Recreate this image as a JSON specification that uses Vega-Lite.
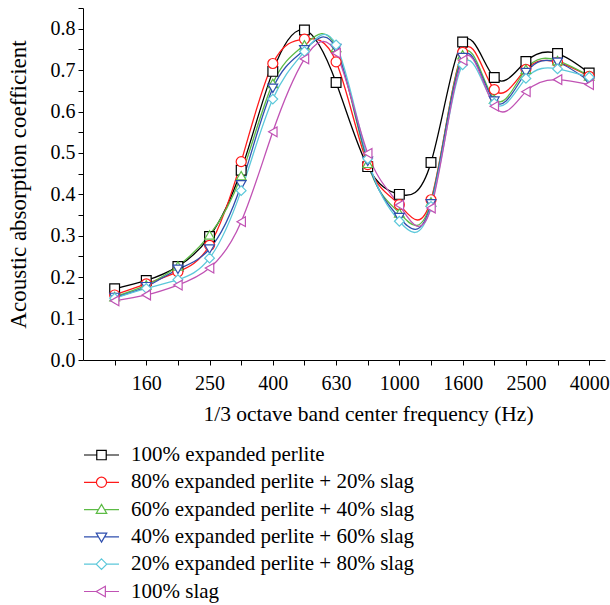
{
  "$schema": "https://vega.github.io/schema/vega-lite/v6.json",
  "autosize": "none",
  "padding": {"left": 83, "top": 8, "right": 5, "bottom": 245},
  "width": 522,
  "height": 352,
  "background": "white",
  "config": {
    "view": {"stroke": null},
    "font": "Liberation Serif",
    "axis": {
      "grid": false,
      "domainColor": "black",
      "domainWidth": 1,
      "tickColor": "black",
      "tickWidth": 1,
      "tickSize": 5,
      "labelColor": "black",
      "titleColor": "black",
      "labelFont": "Liberation Serif",
      "titleFont": "Liberation Serif",
      "labelFontSize": 20,
      "titleFontSize": 21.5,
      "titleFontWeight": "normal"
    }
  },
  "data": {
    "values": [
      {"band": 1, "freq": 125, "series": "100% expanded perlite", "alpha": 0.172},
      {"band": 2, "freq": 160, "series": "100% expanded perlite", "alpha": 0.192},
      {"band": 3, "freq": 200, "series": "100% expanded perlite", "alpha": 0.226},
      {"band": 4, "freq": 250, "series": "100% expanded perlite", "alpha": 0.298},
      {"band": 5, "freq": 315, "series": "100% expanded perlite", "alpha": 0.458},
      {"band": 6, "freq": 400, "series": "100% expanded perlite", "alpha": 0.697},
      {"band": 7, "freq": 500, "series": "100% expanded perlite", "alpha": 0.797},
      {"band": 8, "freq": 630, "series": "100% expanded perlite", "alpha": 0.670},
      {"band": 9, "freq": 800, "series": "100% expanded perlite", "alpha": 0.467},
      {"band": 10, "freq": 1000, "series": "100% expanded perlite", "alpha": 0.400},
      {"band": 11, "freq": 1250, "series": "100% expanded perlite", "alpha": 0.477},
      {"band": 12, "freq": 1600, "series": "100% expanded perlite", "alpha": 0.768},
      {"band": 13, "freq": 2000, "series": "100% expanded perlite", "alpha": 0.682},
      {"band": 14, "freq": 2500, "series": "100% expanded perlite", "alpha": 0.721},
      {"band": 15, "freq": 3150, "series": "100% expanded perlite", "alpha": 0.740},
      {"band": 16, "freq": 4000, "series": "100% expanded perlite", "alpha": 0.693},

      {"band": 1, "freq": 125, "series": "80% expanded perlite + 20% slag", "alpha": 0.157},
      {"band": 2, "freq": 160, "series": "80% expanded perlite + 20% slag", "alpha": 0.184},
      {"band": 3, "freq": 200, "series": "80% expanded perlite + 20% slag", "alpha": 0.213},
      {"band": 4, "freq": 250, "series": "80% expanded perlite + 20% slag", "alpha": 0.277},
      {"band": 5, "freq": 315, "series": "80% expanded perlite + 20% slag", "alpha": 0.479},
      {"band": 6, "freq": 400, "series": "80% expanded perlite + 20% slag", "alpha": 0.716},
      {"band": 7, "freq": 500, "series": "80% expanded perlite + 20% slag", "alpha": 0.775},
      {"band": 8, "freq": 630, "series": "80% expanded perlite + 20% slag", "alpha": 0.720},
      {"band": 9, "freq": 800, "series": "80% expanded perlite + 20% slag", "alpha": 0.472},
      {"band": 10, "freq": 1000, "series": "80% expanded perlite + 20% slag", "alpha": 0.375},
      {"band": 11, "freq": 1250, "series": "80% expanded perlite + 20% slag", "alpha": 0.387},
      {"band": 12, "freq": 1600, "series": "80% expanded perlite + 20% slag", "alpha": 0.743},
      {"band": 13, "freq": 2000, "series": "80% expanded perlite + 20% slag", "alpha": 0.653},
      {"band": 14, "freq": 2500, "series": "80% expanded perlite + 20% slag", "alpha": 0.702},
      {"band": 15, "freq": 3150, "series": "80% expanded perlite + 20% slag", "alpha": 0.719},
      {"band": 16, "freq": 4000, "series": "80% expanded perlite + 20% slag", "alpha": 0.685},

      {"band": 1, "freq": 125, "series": "60% expanded perlite + 40% slag", "alpha": 0.153},
      {"band": 2, "freq": 160, "series": "60% expanded perlite + 40% slag", "alpha": 0.181},
      {"band": 3, "freq": 200, "series": "60% expanded perlite + 40% slag", "alpha": 0.227},
      {"band": 4, "freq": 250, "series": "60% expanded perlite + 40% slag", "alpha": 0.302},
      {"band": 5, "freq": 315, "series": "60% expanded perlite + 40% slag", "alpha": 0.445},
      {"band": 6, "freq": 400, "series": "60% expanded perlite + 40% slag", "alpha": 0.668},
      {"band": 7, "freq": 500, "series": "60% expanded perlite + 40% slag", "alpha": 0.761},
      {"band": 8, "freq": 630, "series": "60% expanded perlite + 40% slag", "alpha": 0.755},
      {"band": 9, "freq": 800, "series": "60% expanded perlite + 40% slag", "alpha": 0.475},
      {"band": 10, "freq": 1000, "series": "60% expanded perlite + 40% slag", "alpha": 0.355},
      {"band": 11, "freq": 1250, "series": "60% expanded perlite + 40% slag", "alpha": 0.382},
      {"band": 12, "freq": 1600, "series": "60% expanded perlite + 40% slag", "alpha": 0.737},
      {"band": 13, "freq": 2000, "series": "60% expanded perlite + 40% slag", "alpha": 0.630},
      {"band": 14, "freq": 2500, "series": "60% expanded perlite + 40% slag", "alpha": 0.702},
      {"band": 15, "freq": 3150, "series": "60% expanded perlite + 40% slag", "alpha": 0.723},
      {"band": 16, "freq": 4000, "series": "60% expanded perlite + 40% slag", "alpha": 0.686},

      {"band": 1, "freq": 125, "series": "40% expanded perlite + 60% slag", "alpha": 0.151},
      {"band": 2, "freq": 160, "series": "40% expanded perlite + 60% slag", "alpha": 0.177},
      {"band": 3, "freq": 200, "series": "40% expanded perlite + 60% slag", "alpha": 0.219},
      {"band": 4, "freq": 250, "series": "40% expanded perlite + 60% slag", "alpha": 0.268},
      {"band": 5, "freq": 315, "series": "40% expanded perlite + 60% slag", "alpha": 0.423},
      {"band": 6, "freq": 400, "series": "40% expanded perlite + 60% slag", "alpha": 0.656},
      {"band": 7, "freq": 500, "series": "40% expanded perlite + 60% slag", "alpha": 0.749},
      {"band": 8, "freq": 630, "series": "40% expanded perlite + 60% slag", "alpha": 0.752},
      {"band": 9, "freq": 800, "series": "40% expanded perlite + 60% slag", "alpha": 0.480},
      {"band": 10, "freq": 1000, "series": "40% expanded perlite + 60% slag", "alpha": 0.344},
      {"band": 11, "freq": 1250, "series": "40% expanded perlite + 60% slag", "alpha": 0.377},
      {"band": 12, "freq": 1600, "series": "40% expanded perlite + 60% slag", "alpha": 0.730},
      {"band": 13, "freq": 2000, "series": "40% expanded perlite + 60% slag", "alpha": 0.625},
      {"band": 14, "freq": 2500, "series": "40% expanded perlite + 60% slag", "alpha": 0.694},
      {"band": 15, "freq": 3150, "series": "40% expanded perlite + 60% slag", "alpha": 0.719},
      {"band": 16, "freq": 4000, "series": "40% expanded perlite + 60% slag", "alpha": 0.673},

      {"band": 1, "freq": 125, "series": "20% expanded perlite + 80% slag", "alpha": 0.149},
      {"band": 2, "freq": 160, "series": "20% expanded perlite + 80% slag", "alpha": 0.173},
      {"band": 3, "freq": 200, "series": "20% expanded perlite + 80% slag", "alpha": 0.194},
      {"band": 4, "freq": 250, "series": "20% expanded perlite + 80% slag", "alpha": 0.246},
      {"band": 5, "freq": 315, "series": "20% expanded perlite + 80% slag", "alpha": 0.409},
      {"band": 6, "freq": 400, "series": "20% expanded perlite + 80% slag", "alpha": 0.630},
      {"band": 7, "freq": 500, "series": "20% expanded perlite + 80% slag", "alpha": 0.745},
      {"band": 8, "freq": 630, "series": "20% expanded perlite + 80% slag", "alpha": 0.761},
      {"band": 9, "freq": 800, "series": "20% expanded perlite + 80% slag", "alpha": 0.486},
      {"band": 10, "freq": 1000, "series": "20% expanded perlite + 80% slag", "alpha": 0.335},
      {"band": 11, "freq": 1250, "series": "20% expanded perlite + 80% slag", "alpha": 0.371},
      {"band": 12, "freq": 1600, "series": "20% expanded perlite + 80% slag", "alpha": 0.713},
      {"band": 13, "freq": 2000, "series": "20% expanded perlite + 80% slag", "alpha": 0.620},
      {"band": 14, "freq": 2500, "series": "20% expanded perlite + 80% slag", "alpha": 0.680},
      {"band": 15, "freq": 3150, "series": "20% expanded perlite + 80% slag", "alpha": 0.703},
      {"band": 16, "freq": 4000, "series": "20% expanded perlite + 80% slag", "alpha": 0.683},

      {"band": 1, "freq": 125, "series": "100% slag", "alpha": 0.143},
      {"band": 2, "freq": 160, "series": "100% slag", "alpha": 0.157},
      {"band": 3, "freq": 200, "series": "100% slag", "alpha": 0.181},
      {"band": 4, "freq": 250, "series": "100% slag", "alpha": 0.222},
      {"band": 5, "freq": 315, "series": "100% slag", "alpha": 0.334},
      {"band": 6, "freq": 400, "series": "100% slag", "alpha": 0.551},
      {"band": 7, "freq": 500, "series": "100% slag", "alpha": 0.727},
      {"band": 8, "freq": 630, "series": "100% slag", "alpha": 0.741},
      {"band": 9, "freq": 800, "series": "100% slag", "alpha": 0.499},
      {"band": 10, "freq": 1000, "series": "100% slag", "alpha": 0.374},
      {"band": 11, "freq": 1250, "series": "100% slag", "alpha": 0.367},
      {"band": 12, "freq": 1600, "series": "100% slag", "alpha": 0.724},
      {"band": 13, "freq": 2000, "series": "100% slag", "alpha": 0.613},
      {"band": 14, "freq": 2500, "series": "100% slag", "alpha": 0.648},
      {"band": 15, "freq": 3150, "series": "100% slag", "alpha": 0.677},
      {"band": 16, "freq": 4000, "series": "100% slag", "alpha": 0.665}
    ]
  },
  "encoding": {
    "x": {
      "field": "band",
      "type": "quantitative",
      "scale": {"domain": [0, 16.5], "nice": false, "zero": false},
      "axis": {
        "values": [1, 2, 3, 4, 5, 6, 7, 8, 9, 10, 11, 12, 13, 14, 15, 16],
        "labelExpr": "['','','160','','250','','400','','630','','1000','','1600','','2500','','4000'][datum.value]",
        "labelPadding": 8,
        "labelFlush": false,
        "title": "1/3 octave band center frequency (Hz)",
        "titlePadding": 10,
        "titleX": 285
      }
    },
    "y": {
      "field": "alpha",
      "type": "quantitative",
      "scale": {"domain": [0, 0.85], "nice": false},
      "axis": {
        "values": [0, 0.05, 0.1, 0.15, 0.2, 0.25, 0.3, 0.35, 0.4, 0.45, 0.5, 0.55, 0.6, 0.65, 0.7, 0.75, 0.8, 0.85],
        "labelExpr": "round(datum.value * 20) % 2 == 0 ? format(datum.value, '.1f') : ''",
        "labelPadding": 3,
        "labelFlush": false,
        "title": "Acoustic absorption coefficient",
        "titleFontSize": 23,
        "titlePadding": 20
      }
    },
    "color": {
      "field": "series",
      "type": "nominal",
      "scale": {
        "domain": ["100% expanded perlite", "80% expanded perlite + 20% slag", "60% expanded perlite + 40% slag", "40% expanded perlite + 60% slag", "20% expanded perlite + 80% slag", "100% slag"],
        "range": ["#000000", "#ff1a1a", "#5cbb45", "#2f4fae", "#5cc8da", "#c052b4"]
      },
      "legend": {
        "orient": "none",
        "legendX": 0,
        "legendY": 437,
        "direction": "vertical",
        "title": null,
        "padding": 0,
        "labelFont": "Liberation Serif",
        "labelFontSize": 21,
        "labelColor": "black",
        "labelLimit": 500,
        "labelOffset": 11,
        "rowPadding": 6.3,
        "clipHeight": 20,
        "symbolSize": 1225,
        "symbolStrokeWidth": 1.2,
        "symbolOpacity": 1,
        "encode": {
          "symbols": {
            "update": {
              "shape": {"signal": "datum.value == '100% expanded perlite' ? 'M-1,0H-0.27M0.27,0H1M-0.27,-0.27H0.27V0.27H-0.27Z' : datum.value == '80% expanded perlite + 20% slag' ? 'M-1,0H-0.29M0.29,0H1M-0.29,0A0.29,0.29 0 1,0 0.29,0A0.29,0.29 0 1,0 -0.29,0Z' : datum.value == '60% expanded perlite + 40% slag' ? 'M-1,0H-0.17M0.17,0H1M0,-0.3L0.3,0.22H-0.3Z' : datum.value == '40% expanded perlite + 60% slag' ? 'M-1,0H-0.17M0.17,0H1M0,0.3L0.3,-0.22H-0.3Z' : datum.value == '20% expanded perlite + 80% slag' ? 'M-1,0H-0.3M0.3,0H1M0,-0.3L0.3,0L0,0.3L-0.3,0Z' : 'M-1,0H-0.3M0.22,0H1M-0.3,0L0.22,-0.3V0.3Z'"},
              "size": {"value": 1225},
              "fill": {"value": "white"},
              "strokeWidth": {"value": 1.2}
            }
          }
        }
      }
    }
  },
  "layer": [
    {
      "mark": {"type": "line", "interpolate": "natural", "strokeWidth": 1.3}
    },
    {
      "transform": [{"filter": {"field": "series", "equal": "100% expanded perlite"}}],
      "mark": {"type": "point", "shape": "square", "filled": false, "fill": "white", "size": 95, "strokeWidth": 1.2, "opacity": 1}
    },
    {
      "transform": [{"filter": {"field": "series", "equal": "80% expanded perlite + 20% slag"}}],
      "mark": {"type": "point", "shape": "circle", "filled": false, "fill": "white", "size": 100, "strokeWidth": 1.2, "opacity": 1}
    },
    {
      "transform": [{"filter": {"field": "series", "equal": "60% expanded perlite + 40% slag"}}],
      "mark": {"type": "point", "shape": "triangle-up", "filled": false, "fill": "white", "size": 95, "strokeWidth": 1.2, "opacity": 1}
    },
    {
      "transform": [{"filter": {"field": "series", "equal": "40% expanded perlite + 60% slag"}}],
      "mark": {"type": "point", "shape": "triangle-down", "filled": false, "fill": "white", "size": 95, "strokeWidth": 1.2, "opacity": 1}
    },
    {
      "transform": [{"filter": {"field": "series", "equal": "20% expanded perlite + 80% slag"}}],
      "mark": {"type": "point", "shape": "diamond", "filled": false, "fill": "white", "size": 95, "strokeWidth": 1.2, "opacity": 1}
    },
    {
      "transform": [{"filter": {"field": "series", "equal": "100% slag"}}],
      "mark": {"type": "point", "shape": "triangle-left", "filled": false, "fill": "white", "size": 95, "strokeWidth": 1.2, "opacity": 1}
    }
  ]
}
